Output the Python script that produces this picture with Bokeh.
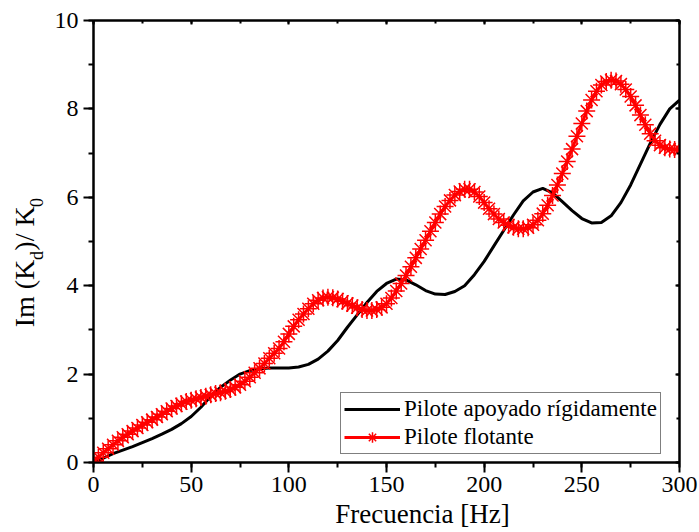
from bokeh.plotting import figure
from bokeh.models import (Range1d, SingleIntervalTicker, FixedTicker, LinearAxis, Legend, LegendItem)
from bokeh.embed import file_html
from bokeh.resources import INLINE

# ---------------- data ----------------
freq_rigid = [0, 5, 10, 15, 20, 25, 30, 35, 40, 45, 50, 55, 60, 65, 70, 75, 80, 85, 90, 95,
              100, 105, 110, 115, 120, 125, 130, 135, 140, 145, 150, 155, 160, 165, 170, 175,
              180, 185, 190, 195, 200, 205, 210, 215, 220, 225, 230, 235, 240, 245, 250, 255,
              260, 265, 270, 275, 280, 285, 290, 295, 300]
im_rigid = [0.0, 0.1, 0.2, 0.28, 0.36, 0.45, 0.54, 0.64, 0.75, 0.88, 1.04, 1.25, 1.5, 1.7,
            1.86, 2.0, 2.08, 2.12, 2.14, 2.14, 2.14, 2.16, 2.22, 2.34, 2.52, 2.76, 3.06, 3.34,
            3.62, 3.87, 4.05, 4.15, 4.13, 4.02, 3.89, 3.81, 3.80, 3.87, 4.0, 4.25, 4.55, 4.9,
            5.25, 5.6, 5.92, 6.12, 6.2, 6.1, 5.9, 5.7, 5.52, 5.42, 5.43, 5.58, 5.88, 6.28,
            6.75, 7.22, 7.65, 8.0, 8.2]

freq_float = [0, 2.5, 5, 7.5, 10, 12.5, 15, 17.5, 20, 22.5, 25, 27.5, 30, 32.5, 35, 37.5, 40,
              42.5, 45, 47.5, 50, 52.5, 55, 57.5, 60, 62.5, 65, 67.5, 70, 72.5, 75, 77.5, 80,
              82.5, 85, 87.5, 90, 92.5, 95, 97.5, 100, 102.5, 105, 107.5, 110, 112.5, 115,
              117.5, 120, 122.5, 125, 127.5, 130, 132.5, 135, 137.5, 140, 142.5, 145, 147.5,
              150, 152.5, 155, 157.5, 160, 162.5, 165, 167.5, 170, 172.5, 175, 177.5, 180,
              182.5, 185, 187.5, 190, 192.5, 195, 197.5, 200, 202.5, 205, 207.5, 210, 212.5,
              215, 217.5, 220, 222.5, 225, 227.5, 230, 232.5, 235, 237.5, 240, 242.5, 245,
              247.5, 250, 252.5, 255, 257.5, 260, 262.5, 265, 267.5, 270, 272.5, 275, 277.5,
              280, 282.5, 285, 287.5, 290, 292.5, 295, 297.5, 300]
im_float = [0.02, 0.12, 0.22, 0.31, 0.40, 0.49, 0.57, 0.64, 0.71, 0.78, 0.85, 0.91, 0.97,
            1.03, 1.09, 1.16, 1.22, 1.28, 1.33, 1.38, 1.41, 1.44, 1.47, 1.50, 1.53, 1.56,
            1.58, 1.61, 1.65, 1.70, 1.76, 1.84, 1.93, 2.03, 2.13, 2.24, 2.36, 2.47, 2.58,
            2.73, 2.91, 3.08, 3.23, 3.36, 3.48, 3.59, 3.67, 3.72, 3.74, 3.73, 3.70, 3.65,
            3.60, 3.55, 3.50, 3.46, 3.44, 3.44, 3.46, 3.51, 3.59, 3.72, 3.88, 4.05, 4.23,
            4.43, 4.63, 4.83, 5.03, 5.23, 5.43, 5.62, 5.79, 5.93, 6.05, 6.13, 6.18, 6.18,
            6.12, 6.02, 5.88, 5.74, 5.62, 5.51, 5.43, 5.37, 5.32, 5.29, 5.29, 5.31, 5.38,
            5.48, 5.63, 5.82, 6.04, 6.28, 6.54, 6.81, 7.09, 7.38, 7.67, 7.95, 8.20, 8.40,
            8.54, 8.62, 8.65, 8.63, 8.56, 8.44, 8.28, 8.08, 7.86, 7.64, 7.44, 7.28, 7.18,
            7.12, 7.09, 7.08, 7.08]

label_rigid = "Pilote apoyado rígidamente"
label_float = "Pilote flotante"
x_title = "Frecuencia [Hz]"
y_title_main = ["Im (K", ")/ K"]
y_title_sub = ["d", "0"]

FONT = "'Liberation Serif'"

# ---------------- figure ----------------
W, H = 699, 532
FL, FR, FT, FB = 93, 679, 20, 462
p = figure(width=W, height=H, output_backend="svg", toolbar_location=None,
           x_range=Range1d(0, 300), y_range=Range1d(0, 10),
           min_border_left=FL, min_border_right=W - FR,
           min_border_top=FT, min_border_bottom=H - FB,
           x_axis_location=None, y_axis_location=None)
# pixel-unit helper ranges, used only to place the axis titles
p.extra_x_ranges = {"px": Range1d(FL, FR)}
p.extra_y_ranges = {"py": Range1d(FB, FT)}
p.grid.visible = False
p.outline_line_color = "black"
p.outline_line_width = 2
p.background_fill_color = "white"
p.border_fill_color = "white"


def make_axis(interval, labels=True, inward=False):
    ax = LinearAxis(ticker=SingleIntervalTicker(interval=interval, num_minor_ticks=2))
    ax.axis_line_width = 2
    ax.axis_line_color = "black"
    ax.major_tick_line_width = 2
    ax.minor_tick_line_width = 2
    if inward:
        ax.major_tick_in, ax.major_tick_out = 4, 0
        ax.minor_tick_in, ax.minor_tick_out = 3, 0
    else:
        ax.major_tick_in, ax.major_tick_out = 0, 10
        ax.minor_tick_in, ax.minor_tick_out = 0, 5
    ax.major_label_text_font = FONT
    ax.major_label_text_font_size = "24px"
    ax.major_label_text_color = "black"
    if not labels:
        ax.major_label_text_font_size = "0px"
        ax.major_label_text_alpha = 0
    return ax


def text_axis(range_name, ticks, texts, size, standoff, vertical, is_x):
    kw = {"x_range_name": range_name} if is_x else {"y_range_name": range_name}
    ax = LinearAxis(ticker=FixedTicker(ticks=ticks, minor_ticks=[]), **kw)
    ax.major_label_overrides = {t: s for t, s in zip(ticks, texts)}
    ax.axis_line_color = None
    ax.major_tick_line_color = None
    ax.minor_tick_line_color = None
    ax.major_tick_in = ax.major_tick_out = 0
    ax.minor_tick_in = ax.minor_tick_out = 0
    ax.major_label_standoff = standoff
    ax.major_label_text_font = FONT
    ax.major_label_text_font_size = f"{size}px"
    ax.major_label_text_color = "black"
    if vertical:
        ax.major_label_orientation = "vertical"
    return ax


xb = make_axis(50)
xb.major_label_standoff = 4
yl = make_axis(2)
yl.major_label_standoff = 5
xt = make_axis(50, labels=False, inward=True)
yr = make_axis(2, labels=False, inward=True)
p.add_layout(xb, "below")
p.add_layout(yl, "left")
p.add_layout(xt, "above")
p.add_layout(yr, "right")

# x title (pixel position of its centre along the frame)
p.add_layout(text_axis("px", [422], [x_title], 27, 4, False, True), "below")

# y title with subscripts: main parts and subscripts on two label-only axes
MAIN, SUB = 28, 18
widths = [2.416 * MAIN, 0.5 * SUB, 1.583 * MAIN, 0.5 * SUB]
total = sum(widths)
start = 262 + total / 2.0
centers = []
for w in widths:
    centers.append(round(start - w / 2.0))
    start -= w
p.add_layout(text_axis("py", [centers[1], centers[3]], y_title_sub, SUB, 5, True, False), "left")
p.add_layout(text_axis("py", [centers[0], centers[2]], y_title_main, MAIN, -16, True, False), "left")

# ---------------- curves ----------------
r_black = p.line(freq_rigid, im_rigid, line_color="black", line_width=3)
r_red_line = p.line(freq_float, im_float, line_color="red", line_width=3)
r_red_pts = p.scatter(freq_float, im_float, marker="asterisk", size=17,
                      line_color="red", line_width=1.5)

legend = Legend(items=[LegendItem(label=label_rigid, renderers=[r_black]),
                       LegendItem(label=label_float, renderers=[r_red_line, r_red_pts])],
                location=(247, 8))
legend.label_text_font = FONT
legend.label_text_font_size = "23px"
legend.label_text_color = "black"
legend.glyph_width = 56
legend.glyph_height = 26
legend.label_height = 26
legend.spacing = 2
legend.padding = 3
legend.label_standoff = 4
legend.border_line_color = "black"
legend.border_line_width = 1
legend.background_fill_alpha = 1
legend.margin = 0
p.add_layout(legend, "center")

open("out.html", "w").write(file_html(p, INLINE))
